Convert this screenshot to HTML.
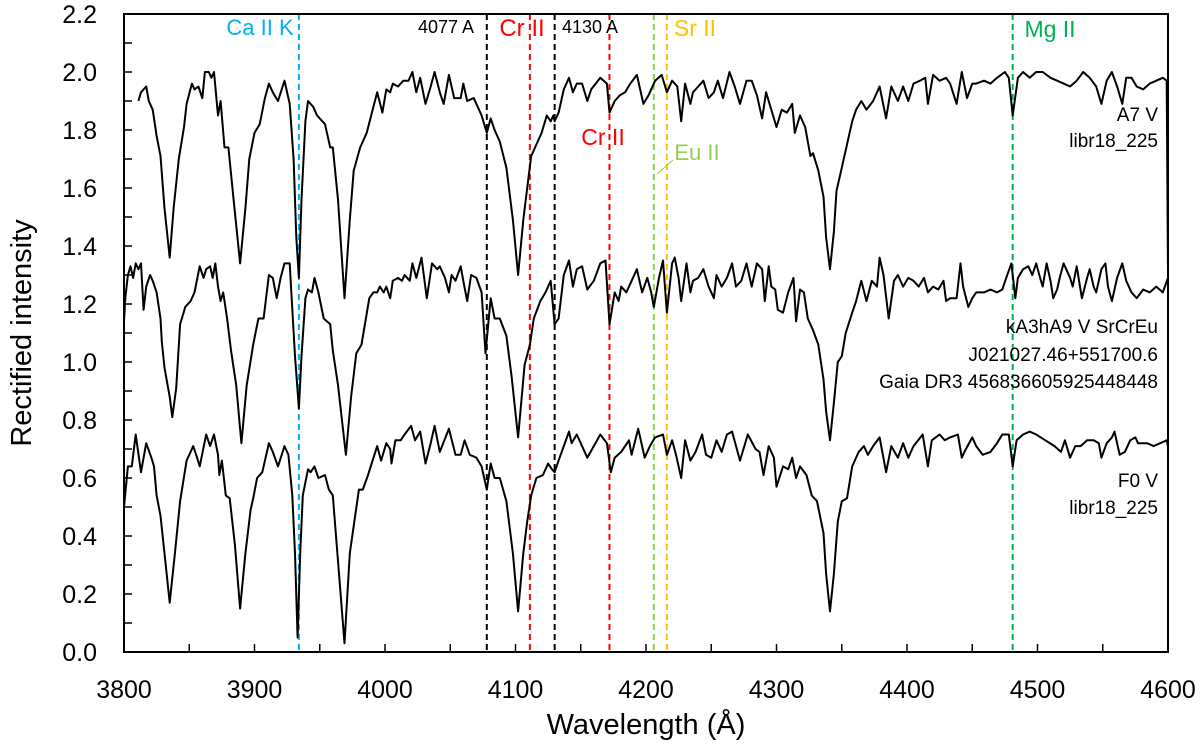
<!DOCTYPE html>
<html><head><meta charset="utf-8"><style>
html,body{margin:0;padding:0;background:#fff}
svg{display:block}
text{font-family:"Liberation Sans","DejaVu Sans",sans-serif}
</style></head><body>
<svg id="chart" width="1200" height="748" viewBox="0 0 1200 748" xmlns="http://www.w3.org/2000/svg"></svg>
<script>
const xTicks=[3800,3900,4000,4100,4200,4300,4400,4500,4600];
const yTicks=[0,0.2,0.4,0.6,0.8,1.0,1.2,1.4,1.6,1.8,2.0,2.2];
const topSpectrum=[[3811,1.90],[3813,1.93],[3817,1.95],[3819,1.90],[3822,1.87],[3825,1.78],[3828,1.71],[3831,1.53],[3835,1.36],[3838,1.53],[3842,1.70],[3846,1.81],[3848,1.89],[3852,1.96],[3854,1.94],[3857,1.95],[3860,1.91],[3862,2.00],[3865,2.00],[3867,1.98],[3869,2.00],[3872,1.85],[3874,1.90],[3877,1.74],[3880,1.74],[3884,1.56],[3889,1.34],[3893,1.53],[3896,1.70],[3900,1.79],[3904,1.82],[3908,1.91],[3911,1.96],[3914,1.93],[3918,1.90],[3923,1.97],[3927,1.89],[3930,1.70],[3932,1.43],[3934,1.29],[3936,1.56],[3939,1.83],[3941,1.90],[3945,1.88],[3948,1.85],[3954,1.82],[3958,1.74],[3960,1.74],[3964,1.56],[3969,1.22],[3973,1.49],[3976,1.66],[3981,1.74],[3986,1.79],[3990,1.86],[3994,1.93],[3998,1.86],[4001,1.94],[4004,1.93],
[4006,1.96],[4010,1.95],[4014,1.97],[4018,1.97],[4021,2.00],[4024,1.93],[4027,1.98],[4031,1.89],[4035,1.95],[4038,2.00],[4042,1.93],[4045,1.89],[4049,1.99],[4053,1.91],[4058,1.91],[4060,1.96],[4063,1.90],[4068,1.91],[4072,1.87],[4074,1.85],[4078,1.79],[4081,1.84],[4084,1.80],[4088,1.76],[4093,1.67],[4098,1.49],[4102,1.30],[4106,1.49],[4109,1.60],[4112,1.71],[4116,1.75],[4120,1.79],[4124,1.85],[4127,1.83],[4129,1.85],[4130,1.83],[4133,1.86],[4137,1.94],[4141,1.98],[4144,1.93],[4147,1.96],[4151,1.96],[4155,1.90],[4158,1.94],[4165,1.98],[4170,1.96],[4172,1.86],[4176,1.90],[4180,1.92],[4184,1.93],[4188,1.96],[4193,1.99],[4198,1.89],[4202,1.92],[4207,1.97],[4212,1.99],[4216,1.93],
[4220,1.97],[4224,1.95],[4227,1.83],[4230,1.96],[4234,1.89],[4236,1.93],[4240,1.95],[4244,1.97],[4248,1.91],[4252,1.93],[4255,1.97],[4259,1.91],[4264,2.00],[4268,1.95],[4272,1.89],[4277,1.97],[4281,1.97],[4285,1.92],[4289,1.84],[4292,1.93],[4296,1.87],[4300,1.81],[4304,1.87],[4308,1.86],[4312,1.89],[4314,1.79],[4318,1.85],[4322,1.81],[4326,1.71],[4328,1.72],[4332,1.66],[4336,1.57],[4338,1.43],[4341,1.32],[4344,1.45],[4346,1.59],[4350,1.67],[4354,1.75],[4358,1.83],[4361,1.87],[4365,1.90],[4369,1.87],[4374,1.90],[4379,1.95],[4384,1.84],[4388,1.95],[4393,1.90],[4397,1.95],[4401,1.90],[4405,1.96],[4410,1.97],[4414,1.98],[4416,1.89],[4420,1.99],[4425,1.97],[4430,1.98],[4433,1.96],
[4438,1.89],[4442,2.00],[4446,1.91],[4450,1.96],[4453,1.96],[4459,1.97],[4464,1.96],[4469,1.98],[4475,2.00],[4478,1.98],[4481,1.85],[4485,1.98],[4489,2.00],[4494,1.98],[4499,2.00],[4504,2.00],[4510,1.98],[4515,1.97],[4520,1.96],[4525,1.95],[4530,1.97],[4535,2.00],[4540,1.98],[4545,1.95],[4549,1.89],[4553,1.97],[4557,2.00],[4561,1.95],[4565,1.89],[4568,1.98],[4572,1.98],[4576,1.95],[4581,1.94],[4586,1.96],[4591,1.97],[4596,1.98],[4599,1.97],[4600,1.30]];
const midSpectrum=[[3800,1.14],[3801,1.22],[3803,1.30],[3805,1.33],[3807,1.29],[3809,1.34],[3811,1.32],[3813,1.34],[3815,1.18],[3817,1.26],[3820,1.30],[3822,1.28],[3825,1.24],[3828,1.15],[3829,1.07],[3831,0.98],[3835,0.88],[3837,0.81],[3840,0.91],[3843,1.13],[3847,1.19],[3851,1.21],[3854,1.24],[3858,1.33],[3861,1.29],[3863,1.32],[3866,1.33],[3868,1.29],[3870,1.34],[3872,1.26],[3874,1.21],[3876,1.24],[3879,1.15],[3882,1.04],[3886,0.92],[3890,0.72],[3894,0.92],[3899,1.06],[3903,1.15],[3907,1.15],[3911,1.30],[3914,1.29],[3917,1.22],[3920,1.29],[3923,1.34],[3927,1.34],[3928,1.26],[3931,1.02],[3934,0.84],[3936,1.02],[3939,1.22],[3941,1.25],[3944,1.24],[3946,1.29],[3949,1.24],[3953,1.15],[3958,1.13],[3960,1.04],[3964,0.92],[3970,0.68],[3974,0.88],[3978,1.03],[3982,1.06],[3985,1.14],[3988,1.22],[3991,1.24],[3994,1.24],[3996,1.26],[3999,1.24],[4001,1.26],[4004,1.22],
[4006,1.28],[4010,1.29],[4013,1.28],[4015,1.30],[4019,1.28],[4021,1.34],[4024,1.29],[4028,1.36],[4032,1.22],[4036,1.34],[4040,1.32],[4042,1.33],[4046,1.29],[4049,1.24],[4051,1.30],[4054,1.28],[4058,1.33],[4060,1.28],[4063,1.21],[4066,1.30],[4070,1.29],[4074,1.24],[4077,1.03],[4081,1.22],[4084,1.15],[4088,1.15],[4093,1.09],[4097,0.95],[4102,0.74],[4107,0.99],[4111,1.06],[4114,1.15],[4119,1.21],[4123,1.24],[4127,1.28],[4130,1.13],[4133,1.15],[4137,1.30],[4141,1.35],[4144,1.26],[4147,1.32],[4151,1.33],[4155,1.25],[4160,1.28],[4165,1.34],[4169,1.35],[4172,1.13],[4176,1.24],[4179,1.21],[4181,1.26],[4185,1.24],[4189,1.28],[4193,1.32],[4197,1.24],[4201,1.29],[4204,1.24],[4206,1.19],[4210,1.29],[4213,1.35],[4216,1.17],
[4220,1.34],[4222,1.36],[4225,1.29],[4227,1.21],[4231,1.34],[4234,1.24],[4236,1.28],[4240,1.29],[4244,1.32],[4248,1.26],[4252,1.22],[4254,1.30],[4258,1.26],[4262,1.29],[4266,1.34],[4269,1.26],[4273,1.28],[4277,1.34],[4281,1.26],[4285,1.34],[4289,1.32],[4291,1.21],[4294,1.33],[4296,1.26],[4299,1.25],[4301,1.18],[4305,1.17],[4309,1.24],[4313,1.29],[4315,1.14],[4318,1.25],[4321,1.24],[4324,1.15],[4328,1.11],[4332,1.06],[4336,0.94],[4338,0.83],[4341,0.73],[4344,0.86],[4347,1.00],[4350,1.02],[4353,1.10],[4358,1.17],[4361,1.21],[4365,1.28],[4369,1.21],[4373,1.28],[4377,1.26],[4379,1.36],[4382,1.30],[4386,1.15],[4390,1.28],[4393,1.30],[4397,1.26],[4401,1.29],[4405,1.28],[4409,1.26],[4413,1.29],[4416,1.24],[4420,1.26],[4424,1.25],[4428,1.28],[4430,1.21],[4433,1.22],
[4438,1.22],[4441,1.34],[4443,1.26],[4447,1.19],[4450,1.22],[4453,1.24],[4459,1.24],[4464,1.25],[4469,1.24],[4473,1.25],[4476,1.29],[4480,1.34],[4483,1.22],[4485,1.29],[4489,1.32],[4493,1.33],[4496,1.30],[4499,1.34],[4502,1.29],[4504,1.26],[4507,1.34],[4510,1.28],[4512,1.22],[4515,1.25],[4517,1.29],[4520,1.34],[4522,1.32],[4525,1.29],[4527,1.26],[4530,1.33],[4534,1.22],[4538,1.29],[4540,1.32],[4543,1.26],[4545,1.24],[4549,1.32],[4552,1.34],[4554,1.26],[4557,1.21],[4561,1.29],[4565,1.34],[4568,1.28],[4572,1.24],[4576,1.22],[4581,1.25],[4586,1.24],[4591,1.26],[4596,1.24],[4600,1.29]];
const botSpectrum=[[3800,0.50],[3803,0.64],[3806,0.64],[3809,0.75],[3813,0.62],[3817,0.72],[3821,0.67],[3823,0.64],[3825,0.54],[3828,0.47],[3831,0.34],[3835,0.17],[3839,0.34],[3843,0.52],[3848,0.66],[3851,0.69],[3853,0.71],[3856,0.67],[3858,0.64],[3863,0.75],[3866,0.71],[3869,0.75],[3872,0.68],[3873,0.61],[3875,0.66],[3878,0.54],[3881,0.53],[3885,0.37],[3889,0.15],[3893,0.34],[3897,0.49],[3899,0.53],[3902,0.60],[3906,0.62],[3911,0.72],[3914,0.69],[3918,0.64],[3923,0.71],[3926,0.68],[3929,0.54],[3931,0.34],[3933,0.05],[3935,0.34],[3937,0.54],[3941,0.63],[3943,0.62],[3946,0.64],[3949,0.60],[3954,0.61],[3957,0.56],[3960,0.54],[3963,0.37],[3969,0.03],[3973,0.34],[3980,0.56],[3983,0.56],[3987,0.61],[3994,0.71],[3997,0.66],[4001,0.72],[4004,0.70],
[4005,0.65],[4008,0.73],[4012,0.73],[4015,0.75],[4020,0.78],[4023,0.73],[4027,0.76],[4031,0.65],[4035,0.72],[4038,0.78],[4042,0.69],[4049,0.77],[4054,0.68],[4058,0.68],[4061,0.73],[4065,0.68],[4070,0.67],[4074,0.64],[4078,0.56],[4081,0.65],[4084,0.60],[4088,0.60],[4093,0.52],[4098,0.34],[4102,0.14],[4106,0.34],[4109,0.45],[4112,0.54],[4116,0.60],[4121,0.61],[4125,0.65],[4128,0.63],[4130,0.62],[4133,0.66],[4141,0.76],[4143,0.72],[4147,0.75],[4155,0.67],[4165,0.75],[4170,0.72],[4173,0.62],[4176,0.67],[4181,0.69],[4187,0.73],[4189,0.68],[4194,0.77],[4199,0.67],[4203,0.71],[4207,0.74],[4213,0.75],[4216,0.68],
[4220,0.73],[4223,0.68],[4227,0.60],[4230,0.73],[4234,0.66],[4238,0.69],[4243,0.75],[4246,0.68],[4250,0.67],[4254,0.73],[4258,0.69],[4262,0.75],[4266,0.76],[4272,0.66],[4278,0.75],[4284,0.70],[4287,0.69],[4290,0.61],[4294,0.71],[4298,0.67],[4300,0.57],[4305,0.64],[4309,0.63],[4312,0.67],[4315,0.60],[4318,0.64],[4323,0.61],[4327,0.54],[4331,0.52],[4336,0.41],[4338,0.27],[4341,0.14],[4344,0.27],[4347,0.45],[4350,0.52],[4354,0.53],[4358,0.64],[4363,0.69],[4367,0.71],[4370,0.68],[4374,0.71],[4379,0.74],[4384,0.62],[4388,0.71],[4393,0.67],[4397,0.72],[4401,0.67],[4405,0.71],[4412,0.75],[4416,0.64],[4419,0.73],[4425,0.75],[4429,0.73],[4433,0.74],
[4439,0.75],[4442,0.67],[4444,0.69],[4450,0.74],[4453,0.71],[4458,0.68],[4464,0.69],[4469,0.72],[4473,0.75],[4478,0.75],[4481,0.64],[4484,0.73],[4489,0.75],[4494,0.76],[4499,0.75],[4506,0.73],[4513,0.71],[4518,0.69],[4521,0.73],[4525,0.67],[4529,0.71],[4533,0.71],[4538,0.73],[4543,0.73],[4547,0.72],[4549,0.67],[4553,0.72],[4557,0.74],[4559,0.76],[4563,0.68],[4567,0.69],[4571,0.73],[4575,0.74],[4577,0.72],[4584,0.72],[4589,0.71],[4594,0.72],[4599,0.73],[4600,0.71]];
const markerWavelengths=[3934,4078,4111,4130,4172,4206,4216,4481];
const markerColors=["#00b0f0","#000","#ff0000","#000","#ff0000","#92d050","#ffc000","#00b050"];

const NS="http://www.w3.org/2000/svg";
const svg=document.getElementById('chart');
const X0=124,X1=1168,Y0=652,Y1=14;
const xs=l=>X0+(l-3800)/800*(X1-X0);
const ys=v=>Y0-v/2.2*(Y0-Y1);
function mk(tag,attrs,parent){const e=document.createElementNS(NS,tag);for(const k in attrs)e.setAttribute(k,attrs[k]);(parent||svg).appendChild(e);return e;}

markerWavelengths.forEach((l,i)=>{
  const ln=mk('line',{x1:xs(l),x2:xs(l),y1:Y1,y2:Y0,stroke:markerColors[i],'stroke-width':2,'stroke-dasharray':'6,4'});
  
  
});
[[topSpectrum,'spectrum-a7v'],[midSpectrum,'spectrum-ka3ha9'],[botSpectrum,'spectrum-f0v']].forEach(([d,n])=>{
  const p=mk('polyline',{points:d.map(q=>xs(q[0]).toFixed(1)+','+ys(q[1]).toFixed(1)).join(' '),fill:'none',stroke:'#000','stroke-width':2,'stroke-linejoin':'round'});
  
  
});
const fr=mk('rect',{x:X0,y:Y1,width:X1-X0,height:Y0-Y1,fill:'none',stroke:'#000','stroke-width':2});


for(let l=3800;l<=4600;l+=50){mk('line',{x1:xs(l),x2:xs(l),y1:Y0,y2:Y0-8,stroke:'#000','stroke-width':1.5});}
xTicks.forEach(l=>{
  const t=mk('text',{x:xs(l),y:698,'font-size':25,'text-anchor':'middle'});t.textContent=l;
  
  
});
for(let v=0;v<=2.2001;v+=0.1){mk('line',{x1:X0,x2:X0+8,y1:ys(v),y2:ys(v),stroke:'#000','stroke-width':1.5});}
yTicks.forEach(v=>{
  const t=mk('text',{x:97,y:ys(v)+9,'font-size':25,'text-anchor':'end'});t.textContent=v.toFixed(1);
  
  
});
const labels=[
 ["Ca II K",260,35,22,"#00b0f0","middle","label-ca-ii-k"],
 ["4077 A",446,33,18,"#000","middle","label-4077"],
 ["Cr II",522,36,24,"#ff0000","middle","label-cr-ii-1"],
 ["4130 A",590,33,18,"#000","middle","label-4130"],
 ["Sr II",695,36,23,"#ffc000","middle","label-sr-ii"],
 ["Mg II",1050,37,23,"#00b050","middle","label-mg-ii"],
 ["Cr II",603,145,23,"#ff0000","middle","label-cr-ii-2"],
 ["Eu II",697,160,22,"#92d050","middle","label-eu-ii"],
 ["A7 V",1158,121,19,"#000","end","label-a7v"],
 ["libr18_225",1158,147,19,"#000","end","label-a7v-source"],
 ["kA3hA9 V SrCrEu",1158,333,19,"#000","end","label-target-type"],
 ["J021027.46+551700.6",1158,361,19,"#000","end","label-target-name"],
 ["Gaia DR3 456836605925448448",1158,388,19,"#000","end","label-gaia-id"],
 ["F0 V",1158,487,19,"#000","end","label-f0v"],
 ["libr18_225",1158,514,19,"#000","end","label-f0v-source"]
];
labels.forEach(a=>{
 const t=mk('text',{x:a[1],y:a[2],'font-size':a[3],fill:a[4],'text-anchor':a[5]});t.textContent=a[0];
 
 
});
mk('line',{x1:657,y1:174,x2:673,y2:160,stroke:'#92d050','stroke-width':1});
const xt=mk('text',{x:646,y:734,'font-size':29,'text-anchor':'middle'});xt.textContent="Wavelength (Å)";


const yt=mk('text',{x:0,y:0,'font-size':29,'text-anchor':'middle',transform:'translate(31,333) rotate(-90)'});yt.textContent="Rectified intensity";


</script>
</body></html>
